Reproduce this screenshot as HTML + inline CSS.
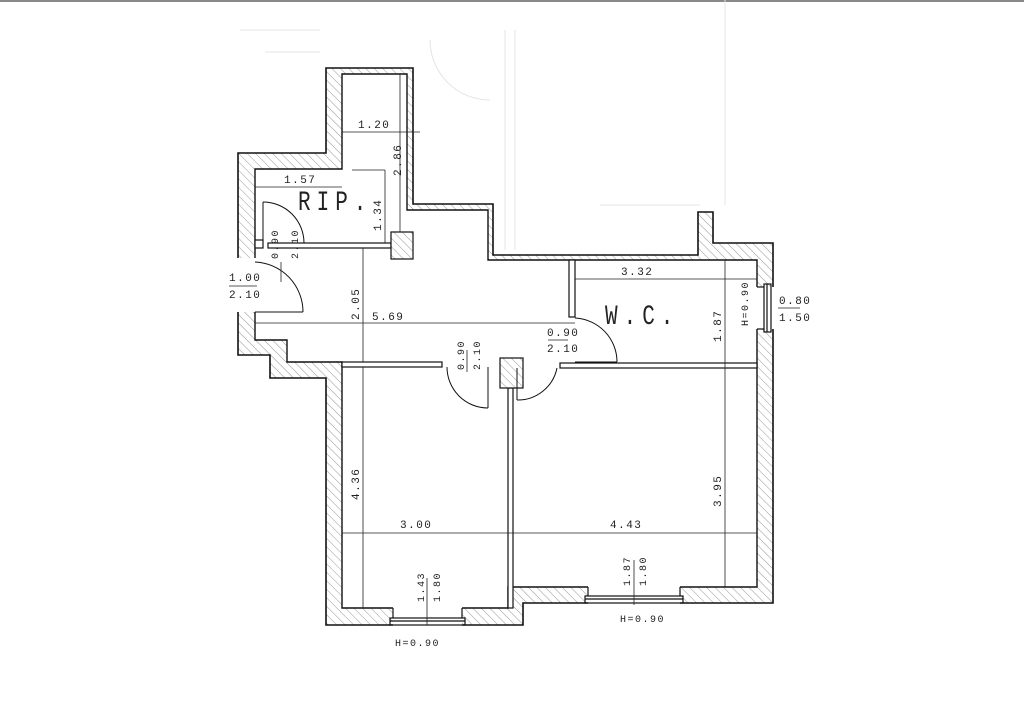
<!DOCTYPE html>
<html><head><meta charset="utf-8"><style>
html,body{margin:0;padding:0;background:#fff;}
svg{display:block;}
text{font-family:"Liberation Mono","DejaVu Sans Mono",monospace;fill:#222;}
</style></head><body>
<svg width="1024" height="723" viewBox="0 0 1024 723" xmlns="http://www.w3.org/2000/svg">
<defs>
<pattern id="h" patternUnits="userSpaceOnUse" width="6" height="6" patternTransform="rotate(-45)">
<rect width="6" height="6" fill="#fff"/>
<line x1="0" y1="0" x2="0" y2="6" stroke="#999" stroke-width="1"/>
</pattern>
</defs>
<rect width="1024" height="723" fill="#fff"/>
<rect x="0" y="0" width="1024" height="2" fill="#888"/>
<g stroke="#e4e4e4" stroke-width="1" fill="none">
<line x1="725" y1="0" x2="725" y2="205"/>
<line x1="505" y1="30" x2="505" y2="250"/>
<line x1="515" y1="30" x2="515" y2="250"/>
<line x1="600" y1="205" x2="700" y2="205"/>
<path d="M430,40 A60,60 0 0 0 490,100"/>
<line x1="240" y1="30" x2="320" y2="30"/>
<line x1="265" y1="52" x2="320" y2="52"/>
</g>
<path d="M326,68 L413,68 L413,204 L493,204 L493,255 L698,255 L698,212 L713,212 L713,243 L773,243 L773,603 L523,603 L523,625 L326,625 L326,378 L270,378 L270,355 L238,355 L238,153 L326,153 Z" fill="url(#h)" stroke="#111" stroke-width="1.6"/>
<path d="M342,74 L407,74 L407,210 L488,210 L488,260 L757,260 L757,587 L508,587 L508,608 L342,608 L342,362 L287,362 L287,340 L255,340 L255,169 L342,169 Z" fill="#fff" stroke="#111" stroke-width="1.4"/>
<rect x="236" y="258" width="20" height="54" fill="#fff"/>
<rect x="393" y="606" width="69" height="21" fill="#fff"/>
<rect x="588" y="585" width="92" height="20" fill="#fff"/>
<rect x="755" y="287" width="20" height="42" fill="#fff"/>
<g stroke="#111" stroke-width="1.2" fill="none">
<line x1="393" y1="608" x2="393" y2="618"/><line x1="462" y1="608" x2="462" y2="618"/>
<rect x="390" y="618" width="75" height="7"/><line x1="390" y1="621" x2="465" y2="621"/>
<line x1="588" y1="587" x2="588" y2="596"/><line x1="680" y1="587" x2="680" y2="596"/>
<rect x="585" y="596" width="98" height="7"/><line x1="585" y1="599" x2="683" y2="599"/>
<line x1="757" y1="287" x2="764" y2="287"/><line x1="757" y1="329" x2="764" y2="329"/>
<rect x="764" y="284" width="7" height="48"/><line x1="767" y1="284" x2="767" y2="332"/>
</g>
<g fill="#fff" stroke="#111" stroke-width="1.2">
<rect x="268" y="243" width="123" height="5"/>
<rect x="569" y="260" width="6" height="57"/>
<rect x="560" y="363" width="197" height="5"/>
<rect x="342" y="362" width="100" height="5"/>
<rect x="508" y="388" width="5" height="220"/>
<rect x="255" y="240" width="8" height="8"/>
</g>
<rect x="391" y="232" width="22" height="27" fill="url(#h)" stroke="#111" stroke-width="1.2"/>
<rect x="500" y="358" width="23" height="30" fill="url(#h)" stroke="#111" stroke-width="1.2"/>
<g stroke="#111" stroke-width="1" fill="none">
<path d="M263,202 A41,41 0 0 1 304,243"/><line x1="263" y1="202" x2="263" y2="243"/>
<path d="M255,262 A50,50 0 0 1 303,312"/><line x1="255" y1="312" x2="303" y2="312"/>
<path d="M447,367 A41,41 0 0 0 488,408"/><line x1="488" y1="367" x2="488" y2="408"/>
<path d="M517,400 A40,40 0 0 0 557,368"/><line x1="517" y1="368" x2="517" y2="400"/>
<path d="M575,318 A44,44 0 0 1 617,362"/><line x1="575" y1="362" x2="617" y2="362"/>
</g>
<g stroke="#222" stroke-width="0.8" fill="none">
<line x1="342" y1="132" x2="420" y2="132"/>
<line x1="400" y1="74" x2="400" y2="232"/>
<line x1="255" y1="187" x2="342" y2="187"/>
<line x1="385" y1="170" x2="385" y2="243"/><line x1="352" y1="170" x2="385" y2="170"/>
<line x1="363" y1="248" x2="363" y2="362"/>
<line x1="255" y1="323" x2="575" y2="323"/>
<line x1="575" y1="279" x2="757" y2="279"/>
<line x1="725" y1="260" x2="725" y2="587"/>
<line x1="342" y1="533" x2="757" y2="533"/>
<line x1="363" y1="367" x2="363" y2="608"/>
<line x1="427" y1="578" x2="427" y2="625"/>
<line x1="634" y1="560" x2="634" y2="605"/>
<line x1="548" y1="340" x2="568" y2="340"/>
<line x1="229" y1="286" x2="257" y2="286"/>
<line x1="778" y1="308" x2="800" y2="308"/>
<line x1="281" y1="262" x2="281" y2="282"/>
<line x1="467" y1="350" x2="467" y2="372"/>
</g>
<g font-size="11" letter-spacing="1.5">
<text x="358" y="128">1.20</text>
<text x="284" y="183">1.57</text>
<text x="372" y="320">5.69</text>
<text x="621" y="275">3.32</text>
<text x="400" y="528">3.00</text>
<text x="610" y="528">4.43</text>
<text x="229" y="281">1.00</text>
<text x="229" y="298">2.10</text>
<text x="547" y="336">0.90</text>
<text x="547" y="352">2.10</text>
<text x="779" y="304">0.80</text>
<text x="779" y="321">1.50</text>
<text x="395" y="646" font-size="10">H=0.90</text>
<text x="620" y="622" font-size="10">H=0.90</text>
<text transform="translate(401,176) rotate(-90)">2.86</text>
<text transform="translate(381,231) rotate(-90)">1.34</text>
<text transform="translate(359,320) rotate(-90)">2.05</text>
<text transform="translate(359,500) rotate(-90)">4.36</text>
<text transform="translate(721,507) rotate(-90)">3.95</text>
<text transform="translate(721,342) rotate(-90)">1.87</text>
<text transform="translate(748,326) rotate(-90)" font-size="10">H=0.90</text>
<text transform="translate(278,259) rotate(-90)" font-size="10">0.90</text>
<text transform="translate(298,259) rotate(-90)" font-size="10">2.10</text>
<text transform="translate(464,370) rotate(-90)" font-size="10">0.90</text>
<text transform="translate(480,370) rotate(-90)" font-size="10">2.10</text>
<text transform="translate(424,602) rotate(-90)" font-size="10">1.43</text>
<text transform="translate(440,602) rotate(-90)" font-size="10">1.80</text>
<text transform="translate(630,586) rotate(-90)" font-size="10">1.87</text>
<text transform="translate(646,586) rotate(-90)" font-size="10">1.80</text>
</g>
<text transform="translate(298,210) scale(0.75,1)" font-family="Liberation Sans,sans-serif" font-size="28" letter-spacing="8">RIP.</text>
<text transform="translate(605,324) scale(0.75,1)" font-family="Liberation Sans,sans-serif" font-size="28" letter-spacing="8">W.C.</text>
</svg>
</body></html>
